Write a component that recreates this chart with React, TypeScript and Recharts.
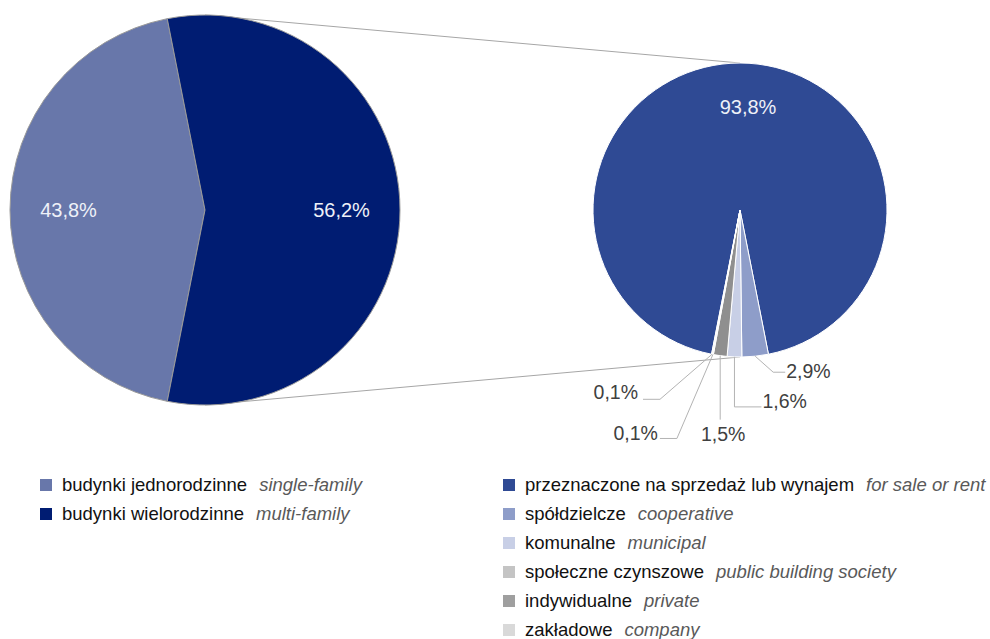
import React from 'react';
import { PieChart, Pie, Cell, Customized } from 'recharts';

// main pie: type of building
const mainNames = ['budynki jednorodzinne', 'budynki wielorodzinne'];
const mainNamesEn = ['single-family', 'multi-family'];
const mainValues = [43.8, 56.2];
const mainColors = ['#6877AA', '#001C72'];

// second pie: multi-family split by form of construction
const subNames = [
  'przeznaczone na sprzedaż lub wynajem',
  'spółdzielcze',
  'komunalne',
  'społeczne czynszowe',
  'indywidualne',
  'zakładowe'
];
const subNamesEn = ['for sale or rent', 'cooperative', 'municipal', 'public building society', 'private', 'company'];
const subValues = [93.8, 2.9, 1.6, 0.1, 1.5, 0.1];
const subColors = ['#2F4A94', '#8E9DC9', '#C8CFE6', '#C4C4C4', '#8F8F8F', '#D9D9D9'];
const subLegendColors = ['#2F4A94', '#8E9DC9', '#C8CFE6', '#C4C4C4', '#9F9F9F', '#D9D9D9'];
// order the slices are drawn in (clockwise) in the small pie
const subDrawOrder = [0, 1, 2, 4, 3, 5];

const MAIN = { cx: 205, cy: 210, r: 195 };
const SUB = { cx: 740, cy: 210, r: 147 };
const RAD = Math.PI / 180;
const FONT = '"Liberation Sans", Arial, sans-serif';

// leader / text offsets for the small outside labels, relative to the arc point
const subLabelLayout: Record<number, { elbow: [number, number]; end: [number, number]; text: [number, number]; anchor: 'start' | 'middle' | 'end' }> = {
  1: { elbow: [18, 16], end: [30, 16], text: [31, 15], anchor: 'start' },
  2: { elbow: [0, 50], end: [27, 50], text: [28, 44], anchor: 'start' },
  4: { elbow: [0, 64], end: [0, 64], text: [3, 78], anchor: 'middle' },
  3: { elbow: [-36, 84], end: [-53, 84], text: [-55, 79], anchor: 'end' },
  5: { elbow: [-52, 45], end: [-69, 45], text: [-74, 38], anchor: 'end' }
};

const fmt = (v: number) => `${v.toFixed(1).replace('.', ',')}%`;

const sum = (a: number[]) => a.reduce((s, v) => s + v, 0);

const mainData = mainValues.map((v, i) => ({ idx: i, name: mainNames[i], value: v }));
const subData = subDrawOrder.map((i) => ({ idx: i, name: subNames[i], value: subValues[i] }));

// left pie: first slice centred on the left; right pie: first slice centred on top
const mainStart = 180 + (mainValues[0] / sum(mainValues)) * 180;
const subStart = 90 + (subValues[0] / sum(subValues)) * 180;

function polar(cx: number, cy: number, r: number, angle: number) {
  return { x: cx + r * Math.cos(-angle * RAD), y: cy + r * Math.sin(-angle * RAD) };
}

function MainLabel(props: any) {
  const { cx, cy, midAngle, outerRadius, value } = props;
  const p = polar(cx, cy, outerRadius * 0.7, midAngle);
  return (
    <text x={p.x} y={p.y} fill="#EEF1F8" fontSize={20} fontFamily={FONT} textAnchor="middle" dominantBaseline="central">
      {fmt(value)}
    </text>
  );
}

function SubLabel(props: any) {
  const { cx, cy, midAngle, outerRadius, value } = props;
  const idx = props.idx ?? props.payload?.idx;
  if (idx === 0) {
    const p = polar(cx, cy, outerRadius * 0.7, midAngle);
    return (
      <text x={p.x + 8} y={p.y} fill="#EEF1F8" fontSize={20} fontFamily={FONT} textAnchor="middle" dominantBaseline="central">
        {fmt(value)}
      </text>
    );
  }
  const lay = subLabelLayout[idx];
  const a = polar(cx, cy, outerRadius, midAngle);
  const pts = [a, { x: a.x + lay.elbow[0], y: a.y + lay.elbow[1] }, { x: a.x + lay.end[0], y: a.y + lay.end[1] }];
  return (
    <g>
      <polyline points={pts.map((p) => `${p.x},${p.y}`).join(' ')} fill="none" stroke="#B3B3B3" strokeWidth={1} />
      <text
        x={a.x + lay.text[0]}
        y={a.y + lay.text[1]}
        fill="#404040"
        fontSize={19.5}
        fontFamily={FONT}
        textAnchor={lay.anchor}
        dominantBaseline="central"
      >
        {fmt(value)}
      </text>
    </g>
  );
}

// lines joining the two pies
function Connectors() {
  return (
    <g>
      <line x1={MAIN.cx} y1={MAIN.cy - MAIN.r} x2={SUB.cx} y2={SUB.cy - SUB.r} stroke="#A6A6A6" strokeWidth={1} />
      <line x1={MAIN.cx} y1={MAIN.cy + MAIN.r} x2={SUB.cx} y2={SUB.cy + SUB.r} stroke="#A6A6A6" strokeWidth={1} />
    </g>
  );
}

function LegendRow({ color, name, en, top, left }: { color: string; name: string; en: string; top: number; left: number }) {
  return (
    <div style={{ position: 'absolute', left, top, height: 29, display: 'flex', alignItems: 'center', whiteSpace: 'nowrap' }}>
      <span style={{ width: 12, height: 12, background: color, marginRight: 10, display: 'inline-block' }} />
      <span style={{ color: '#111', fontSize: 18.5 }}>{name}</span>
      <span style={{ color: '#595959', fontSize: 18.5, fontStyle: 'italic', marginLeft: 12 }}>{en}</span>
    </div>
  );
}

export default function App() {
  return (
    <div style={{ position: 'absolute', left: 0, top: 0, width: 990, height: 639, background: '#fff', fontFamily: FONT }}>
      <PieChart width={990} height={460} margin={{ top: 0, right: 0, bottom: 0, left: 0 }}>
        <Customized component={Connectors} />
        <Pie
          data={mainData}
          dataKey="value"
          cx={MAIN.cx}
          cy={MAIN.cy}
          outerRadius={MAIN.r}
          startAngle={mainStart}
          endAngle={mainStart - 360}
          stroke="#9A9A9A"
          strokeWidth={1}
          label={(p: any) => <MainLabel {...p} />}
          labelLine={false}
          isAnimationActive={false}
        >
          {mainData.map((d) => (
            <Cell key={d.idx} fill={mainColors[d.idx]} />
          ))}
        </Pie>
        <Pie
          data={subData}
          dataKey="value"
          cx={SUB.cx}
          cy={SUB.cy}
          outerRadius={SUB.r}
          startAngle={subStart}
          endAngle={subStart - 360}
          stroke="#FFFFFF"
          strokeWidth={1}
          label={(p: any) => <SubLabel {...p} />}
          labelLine={false}
          isAnimationActive={false}
        >
          {subData.map((d) => (
            <Cell key={d.idx} fill={subColors[d.idx]} />
          ))}
        </Pie>
      </PieChart>
      {mainNames.map((n, i) => (
        <LegendRow key={n} color={mainColors[i]} name={n} en={mainNamesEn[i]} left={40} top={470 + i * 29} />
      ))}
      {subNames.map((n, i) => (
        <LegendRow key={n} color={subLegendColors[i]} name={n} en={subNamesEn[i]} left={503} top={470 + i * 29} />
      ))}
    </div>
  );
}
